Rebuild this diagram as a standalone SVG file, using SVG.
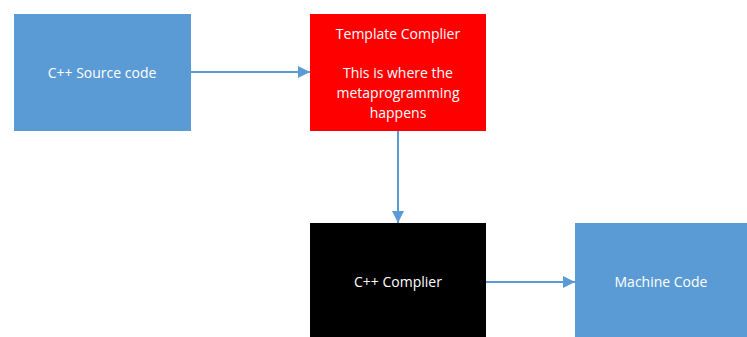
<svg xmlns="http://www.w3.org/2000/svg" width="747" height="337" viewBox="0 0 747 337">
  <style>
    .box-blue { fill: #5b9bd5; }
    .box-red { fill: #ff0000; }
    .box-black { fill: #000000; }
    .label { font-family: "Open Sans", "Liberation Sans", sans-serif; font-size: 14px; fill: #ffffff; text-anchor: middle; dominant-baseline: central; }
    .link { stroke: #5b9bd5; stroke-width: 2; fill: none; }
  </style>
  <defs>
    <marker id="arrow" viewBox="0 0 10 10" refX="10" refY="5" markerWidth="6" markerHeight="6" orient="auto" markerUnits="strokeWidth">
      <path d="M0,0 L10,5 L0,10 Z" fill="#5b9bd5"/>
    </marker>
  </defs>
  <rect width="747" height="337" fill="#ffffff"/>

  <g id="connectors">
    <line class="link" x1="191" y1="72" x2="310" y2="72" marker-end="url(#arrow)"/>
    <line class="link" x1="398" y1="131" x2="398" y2="223" marker-end="url(#arrow)"/>
    <line class="link" x1="486" y1="282" x2="575" y2="282" marker-end="url(#arrow)"/>
  </g>

  <g id="source">
    <rect class="box-blue" x="14" y="14" width="177" height="117"/>
    <text class="label" x="102" y="72">C++ Source code</text>
  </g>

  <g id="template-compiler">
    <rect class="box-red" x="310" y="14" width="176" height="117"/>
    <text class="label" x="398" y="33">Template Complier</text>
    <text class="label" x="398" y="72">This is where the</text>
    <text class="label" x="398" y="92">metaprogramming</text>
    <text class="label" x="398" y="112">happens</text>
  </g>

  <g id="cpp-compiler">
    <rect class="box-black" x="310" y="223" width="176" height="114"/>
    <text class="label" x="398" y="281">C++ Complier</text>
  </g>

  <g id="machine-code">
    <rect class="box-blue" x="575" y="223" width="172" height="114"/>
    <text class="label" x="661" y="281">Machine Code</text>
  </g>
</svg>
